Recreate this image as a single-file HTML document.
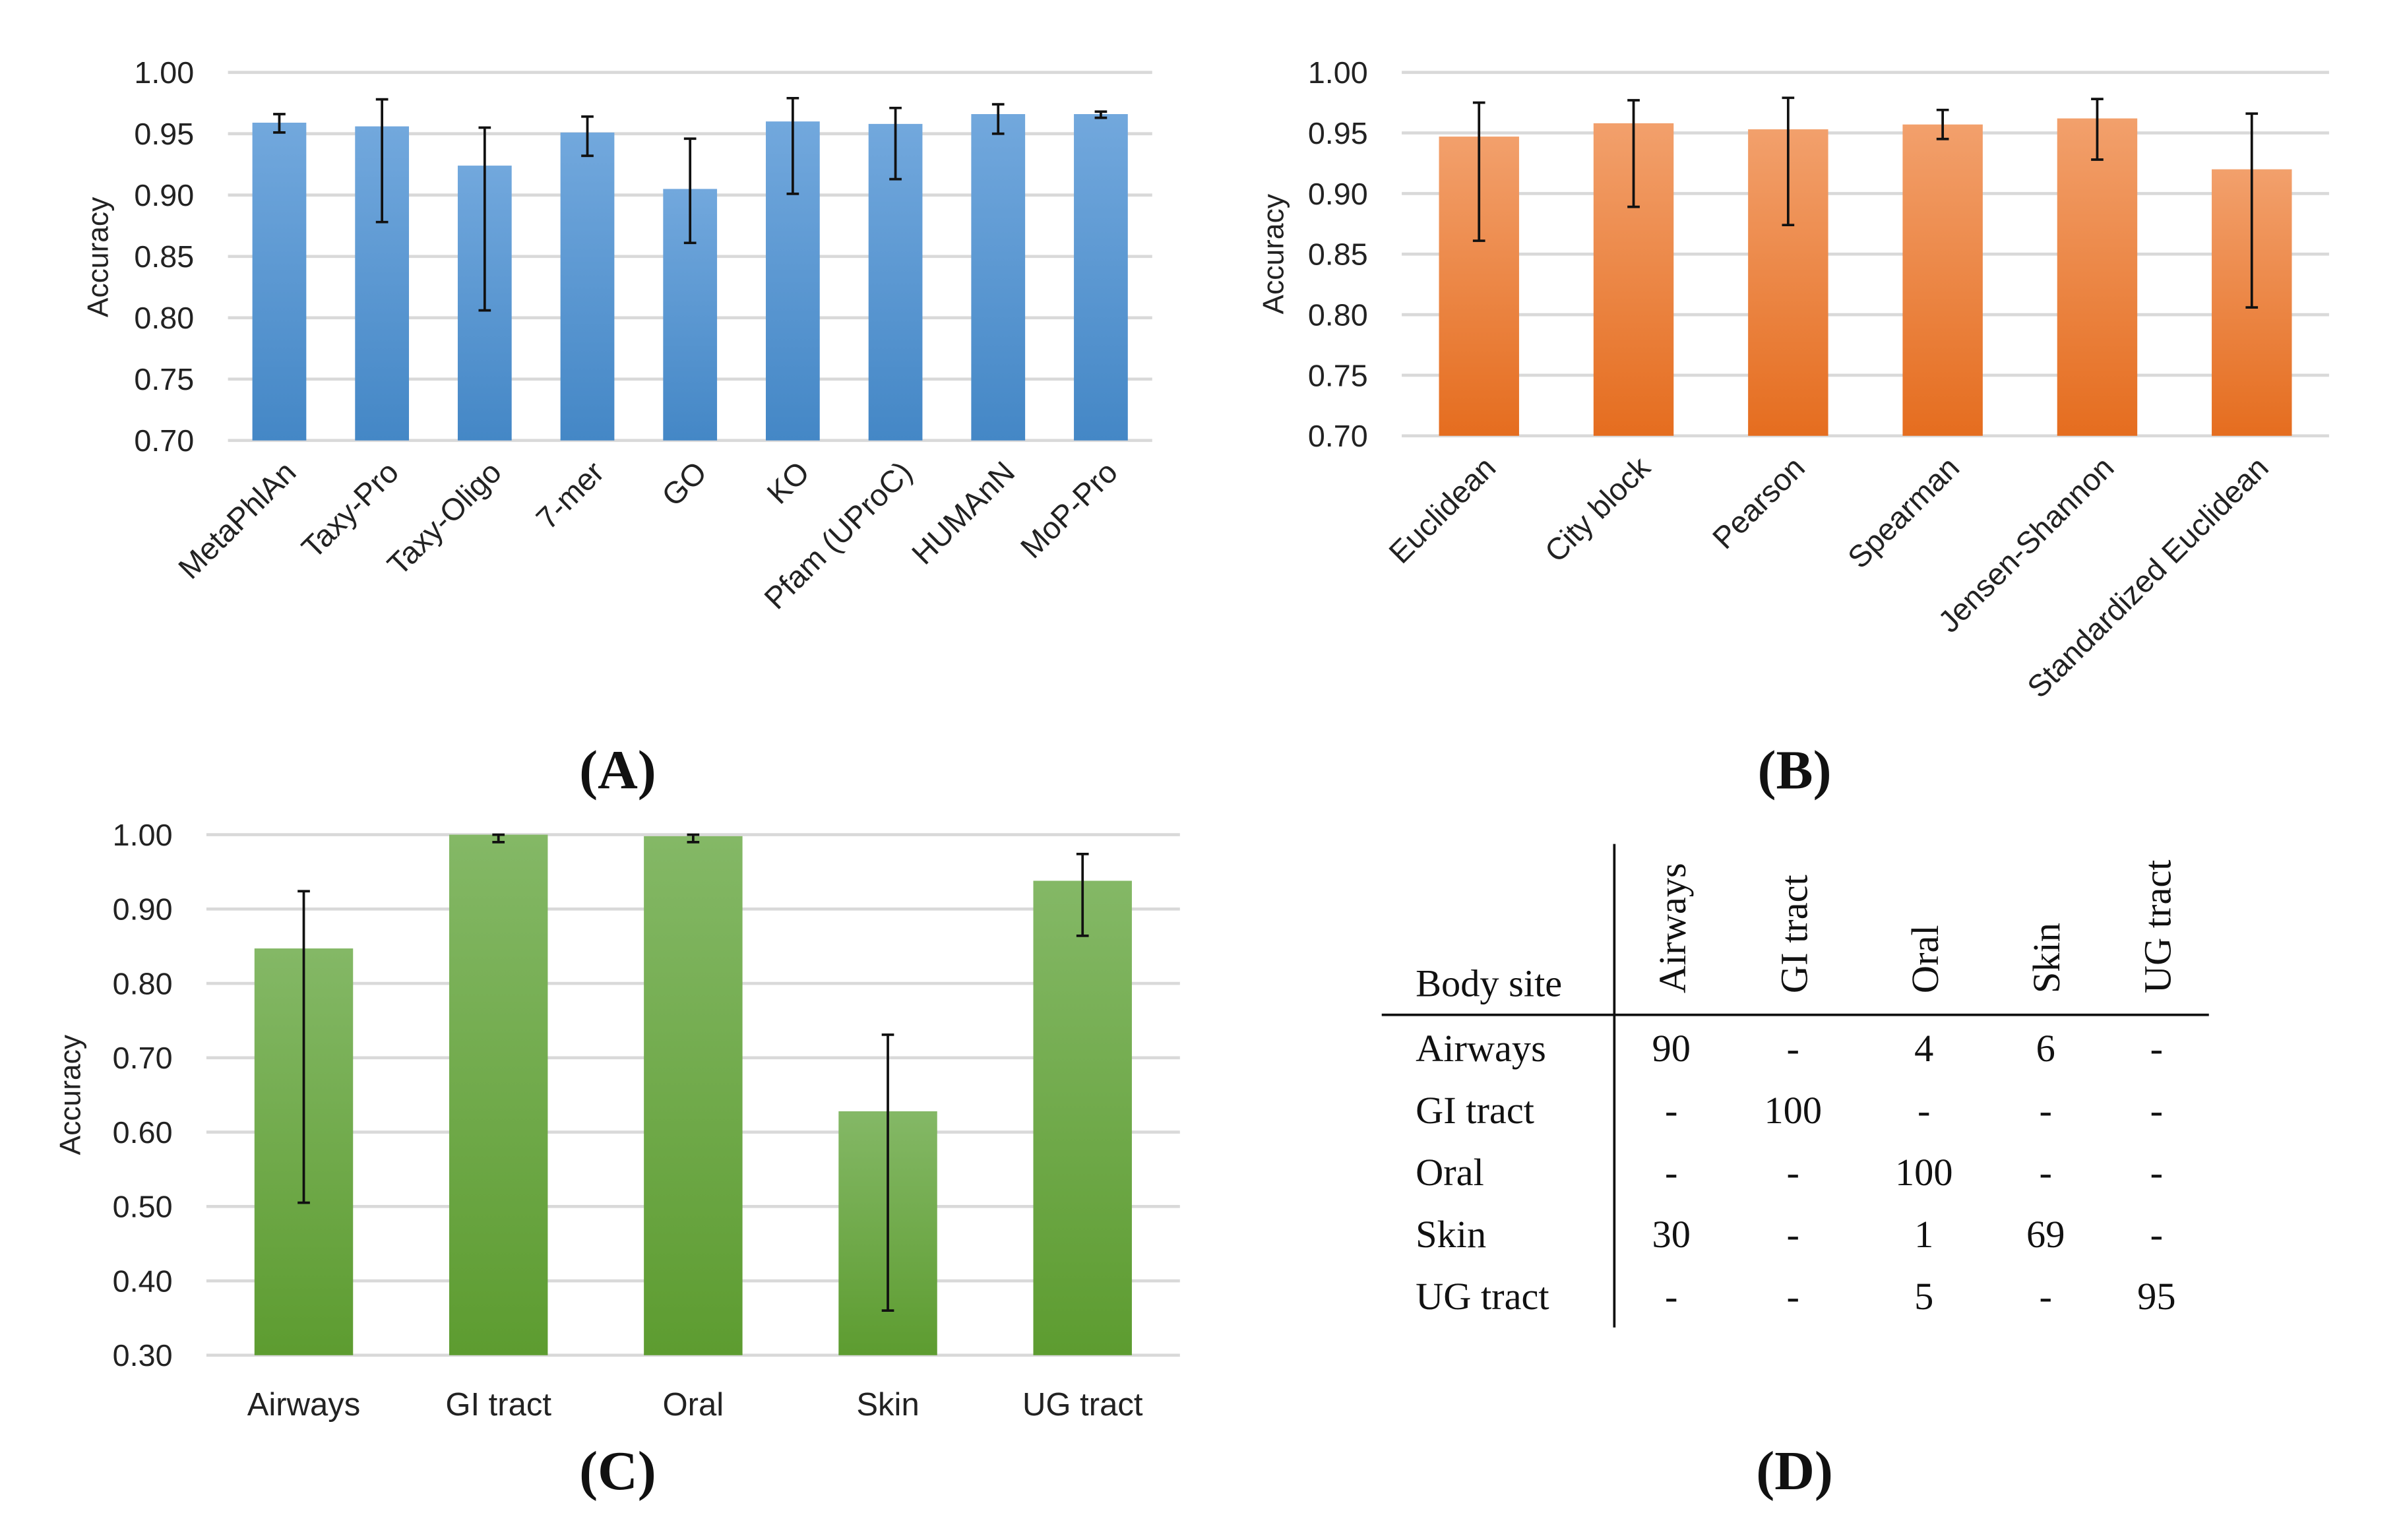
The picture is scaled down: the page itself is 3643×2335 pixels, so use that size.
<!DOCTYPE html>
<html><head><meta charset="utf-8"><style>
html,body{margin:0;padding:0;background:#fff;}
svg{display:block;}
text{font-family:"Liberation Sans",sans-serif;fill:#222;}
.t{font-family:"Liberation Serif",serif;fill:#111;}
</style></head><body>
<svg id="fig" width="3643" height="2335" viewBox="0 0 1560 1000" preserveAspectRatio="none" xmlns="http://www.w3.org/2000/svg">
<defs>
<linearGradient id="gb" x1="0" y1="0" x2="0" y2="1"><stop offset="0" stop-color="#72a8dd"/><stop offset="1" stop-color="#4487c6"/></linearGradient>
<linearGradient id="go" x1="0" y1="0" x2="0" y2="1"><stop offset="0" stop-color="#f2a06c"/><stop offset="1" stop-color="#e56d1f"/></linearGradient>
<linearGradient id="gg" x1="0" y1="0" x2="0" y2="1"><stop offset="0" stop-color="#84b866"/><stop offset="1" stop-color="#5d9c30"/></linearGradient>
</defs>
<g id="pA"></g>
<g id="pB"></g>
<g id="pC"></g>
<text class="t" x="401" y="512" font-size="36" text-anchor="middle" font-weight="bold">(A)</text>
<text class="t" x="1165" y="512" font-size="36" text-anchor="middle" font-weight="bold">(B)</text>
<text class="t" x="401" y="967" font-size="36" text-anchor="middle" font-weight="bold">(C)</text>
<text class="t" x="1165" y="967" font-size="36" text-anchor="middle" font-weight="bold">(D)</text>
<g id="pD">
<line x1="1048" y1="548" x2="1048" y2="862" stroke="#111" stroke-width="1.6"/>
<line x1="897" y1="659" x2="1434" y2="659" stroke="#111" stroke-width="1.6"/>
<text class="t" x="919" y="647" font-size="25">Body site</text>
</g>
</svg>
<script>
// Panel A data
const catsA=["MetaPhlAn","Taxy-Pro","Taxy-Oligo","7-mer","GO","KO","Pfam (UProC)","HUMAnN","MoP-Pro"];
const valsA=[0.959,0.956,0.924,0.951,0.905,0.960,0.958,0.966,0.966];
const loA=[0.951,0.878,0.806,0.932,0.861,0.901,0.913,0.950,0.963];
const hiA=[0.966,0.978,0.955,0.964,0.946,0.979,0.971,0.974,0.968];
const ticksA=["0.70","0.75","0.80","0.85","0.90","0.95","1.00"];
// Panel B data
const catsB=["Euclidean","City block","Pearson","Spearman","Jensen-Shannon","Standardized Euclidean"];
const valsB=[0.947,0.958,0.953,0.957,0.962,0.920];
const loB=[0.861,0.889,0.874,0.945,0.928,0.806];
const hiB=[0.975,0.977,0.979,0.969,0.978,0.966];
const ticksB=["0.70","0.75","0.80","0.85","0.90","0.95","1.00"];
// Panel C data
const catsC=["Airways","GI tract","Oral","Skin","UG tract"];
const valsC=[0.847,1.000,0.998,0.628,0.938];
const loC=[0.505,0.990,0.990,0.360,0.864];
const hiC=[0.924,1.000,1.000,0.731,0.974];
const ticksC=["0.30","0.40","0.50","0.60","0.70","0.80","0.90","1.00"];
// Panel D data
const rowsD=["Airways","GI tract","Oral","Skin","UG tract"];
const tableD=[["90","-","4","6","-"],["-","100","-","-","-"],["-","-","100","-","-"],["30","-","1","69","-"],["-","-","5","-","95"]];

const NS="http://www.w3.org/2000/svg";
function mk(p,tag,at){const e=document.createElementNS(NS,tag);for(const k in at)e.setAttribute(k,at[k]);p.appendChild(e);return e;}

function chart(id,cfg){
  const g=document.getElementById(id);
  const {cats,vals,lo,hi,ticks,x0,x1,yTop,yBot,vmin,vmax,bw,fill,rot,lab}=cfg;
  const y=v=>yBot-(v-vmin)/(vmax-vmin)*(yBot-yTop);
  const step=(x1-x0)/cats.length;
  const xc=i=>x0+step*(i+0.5);
  ticks.forEach(t=>{
    const gl=mk(g,"line",{x1:x0,x2:x1,y1:y(+t),y2:y(+t),stroke:"#d9d9d9","stroke-width":2});
    
    
    const tx=mk(g,"text",{x:x0-22,y:y(+t)+7,"font-size":20,"text-anchor":"end"});tx.textContent=t;
    
    
  });
  const yl=mk(g,"text",{x:0,y:0,"font-size":19,"text-anchor":"middle",transform:`translate(${lab[0]},${lab[1]}) rotate(-90)`});yl.textContent="Accuracy";
  
  
  cats.forEach((c,i)=>{
    const b=mk(g,"rect",{x:xc(i)-bw/2,y:y(vals[i]),width:bw,height:yBot-y(vals[i]),fill:fill});
    
    
    const e=mk(g,"path",{d:`M${xc(i)},${y(hi[i])}V${y(lo[i])}M${xc(i)-4},${y(hi[i])}H${xc(i)+4}M${xc(i)-4},${y(lo[i])}H${xc(i)+4}`,stroke:"#111","stroke-width":1.6,fill:"none"});
    
    
    let t;
    if(rot){t=mk(g,"text",{x:0,y:0,"font-size":20,"text-anchor":"end",transform:`translate(${xc(i)+12},${yBot+22}) rotate(-45)`});}
    else{t=mk(g,"text",{x:xc(i),y:yBot+39,"font-size":21,"text-anchor":"middle"});}
    t.textContent=c;
    
    
  });
}
chart("pA",{cats:catsA,vals:valsA,lo:loA,hi:hiA,ticks:ticksA,x0:148,x1:748,yTop:47,yBot:286,vmin:0.70,vmax:1.00,bw:35,fill:"url(#gb)",rot:true,lab:[70,167]});
chart("pB",{cats:catsB,vals:valsB,lo:loB,hi:hiB,ticks:ticksB,x0:910,x1:1512,yTop:47,yBot:283,vmin:0.70,vmax:1.00,bw:52,fill:"url(#go)",rot:true,lab:[833,165]});
chart("pC",{cats:catsC,vals:valsC,lo:loC,hi:hiC,ticks:ticksC,x0:134,x1:766,yTop:542,yBot:880,vmin:0.30,vmax:1.00,bw:64,fill:"url(#gg)",rot:false,lab:[52,711]});

const gD=document.getElementById("pD");
const colX=[1085,1164,1249,1328,1400];
rowsD.forEach((r,j)=>{
  const h=mk(gD,"text",{class:"t",x:0,y:0,"font-size":25,transform:`translate(${colX[j]+9},645) rotate(-90)`});h.textContent=r;
  
  
  const yy=689+j*40.3;
  const rl=mk(gD,"text",{class:"t",x:919,y:yy,"font-size":25});rl.textContent=r;
  
  
  tableD[j].forEach((v,k)=>{
    const c=mk(gD,"text",{class:"t",x:colX[k],y:yy,"font-size":25,"text-anchor":"middle"});c.textContent=v;
    
    
  });
});
</script>
</body></html>
